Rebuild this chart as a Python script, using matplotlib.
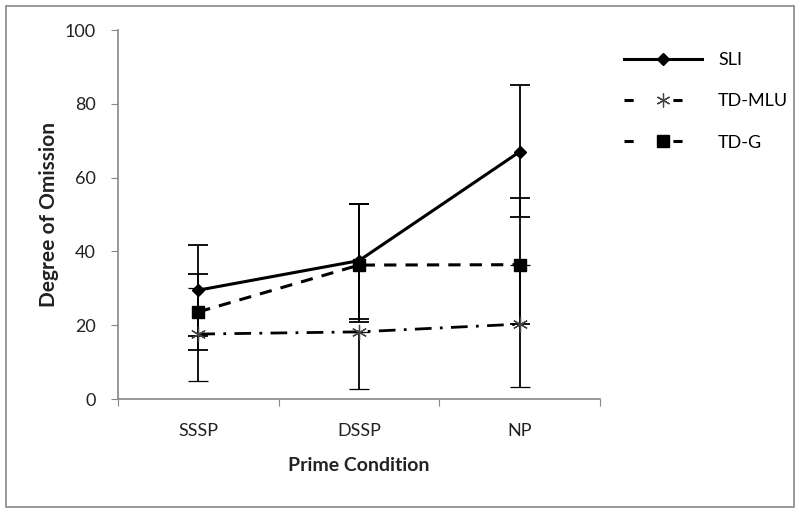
import matplotlib
matplotlib.use("Agg")
import matplotlib.pyplot as plt
from matplotlib.patches import Rectangle
from matplotlib.lines import Line2D

categories = ["SSSP", "DSSP", "NP"]

sli = [29.5, 37.5, 67.0]
sli_err_low = [12.3, 15.8, 17.6]
sli_err_high = [12.3, 15.3, 18.0]

td_mlu = [17.6, 18.2, 20.3]
td_mlu_err_low = [12.6, 15.6, 17.1]
td_mlu_err_high = [12.6, 0.0, 16.0]

td_g = [23.6, 36.3, 36.4]
td_g_err_low = [10.4, 15.5, 16.2]
td_g_err_high = [10.3, 16.5, 18.0]

yticks = [0, 20, 40, 60, 80, 100]

plt.rcParams['font.family'] = ['Lato', 'DejaVu Sans']

fig = plt.figure(figsize=(8.0, 5.13), dpi=100)
ax = fig.add_axes([0.1475, 0.2222, 0.6025, 0.7193])

x = list(range(len(categories)))

ax.errorbar(x, sli, yerr=[sli_err_low, sli_err_high], color='black', lw=2.2,
            ls='-', marker='D', ms=6, ecolor='black', elinewidth=1.3,
            capsize=7, capthick=1.3, zorder=3)
ax.errorbar(x, td_mlu, yerr=[td_mlu_err_low, td_mlu_err_high], color='black', lw=2.0,
            ls=(0, (6, 3, 1, 3)), marker=(6, 2, 0), ms=11, mew=0.9,
            mec='#444444', ecolor='black', elinewidth=1.3, capsize=7, capthick=1.3,
            zorder=3)
ax.errorbar(x, td_g, yerr=[td_g_err_low, td_g_err_high], color='black', lw=2.2,
            ls=(0, (4, 3)), marker='s', ms=8, ecolor='black', elinewidth=1.3,
            capsize=7, capthick=1.3, zorder=3)

ax.set_xlim(-0.5, len(categories) - 0.5)
ax.set_ylim(0, 100)
ax.set_yticks(yticks)
ax.set_yticklabels([str(v) for v in yticks], fontsize=13, color='#222222')
ax.set_xticks([-0.5, 0.5, 1.5, 2.5])
ax.set_xticklabels([])
ax.set_xticks(x, minor=True)
ax.set_xticklabels(categories, minor=True, fontsize=13, color='#222222')
ax.tick_params(axis='x', which='minor', length=0, pad=17)
ax.tick_params(axis='x', which='major', length=5, color='#888888', direction='out')
ax.tick_params(axis='y', length=5, color='#888888', direction='out', pad=11)

for s in ['top', 'right']:
    ax.spines[s].set_visible(False)
for s in ['left', 'bottom']:
    ax.spines[s].set_color('#888888')
    ax.spines[s].set_linewidth(1.2)

ax.set_xlabel('Prime Condition', fontsize=14, fontweight='bold', color='#222222', labelpad=13)
ax.set_ylabel('Degree of Omission', fontsize=15, fontweight='bold', color='#222222', labelpad=4)

handles = [
    Line2D([], [], color='black', lw=2.2, ls='-', marker='D', ms=6),
    Line2D([], [], color='black', lw=2.2, ls=(0, (3.0, 13.0)), marker=(6, 2, 0), ms=10,
           mew=0.9, mec='#444444'),
    Line2D([], [], color='black', lw=2.2, ls=(0, (3.0, 13.0)), marker='s', ms=8),
]
labels = ['SLI', 'TD-MLU', 'TD-G']
fig.legend(handles, labels, loc='upper left', bbox_to_anchor=(0.76, 0.93),
           frameon=False, fontsize=13, handlelength=4.3, labelspacing=1.4,
           handletextpad=0.9)

fig.patches.append(Rectangle((0.008, 0.012), 0.984, 0.976, transform=fig.transFigure,
                             fill=False, edgecolor='#888888', lw=1.2))

fig.savefig('out.png', dpi=100)
